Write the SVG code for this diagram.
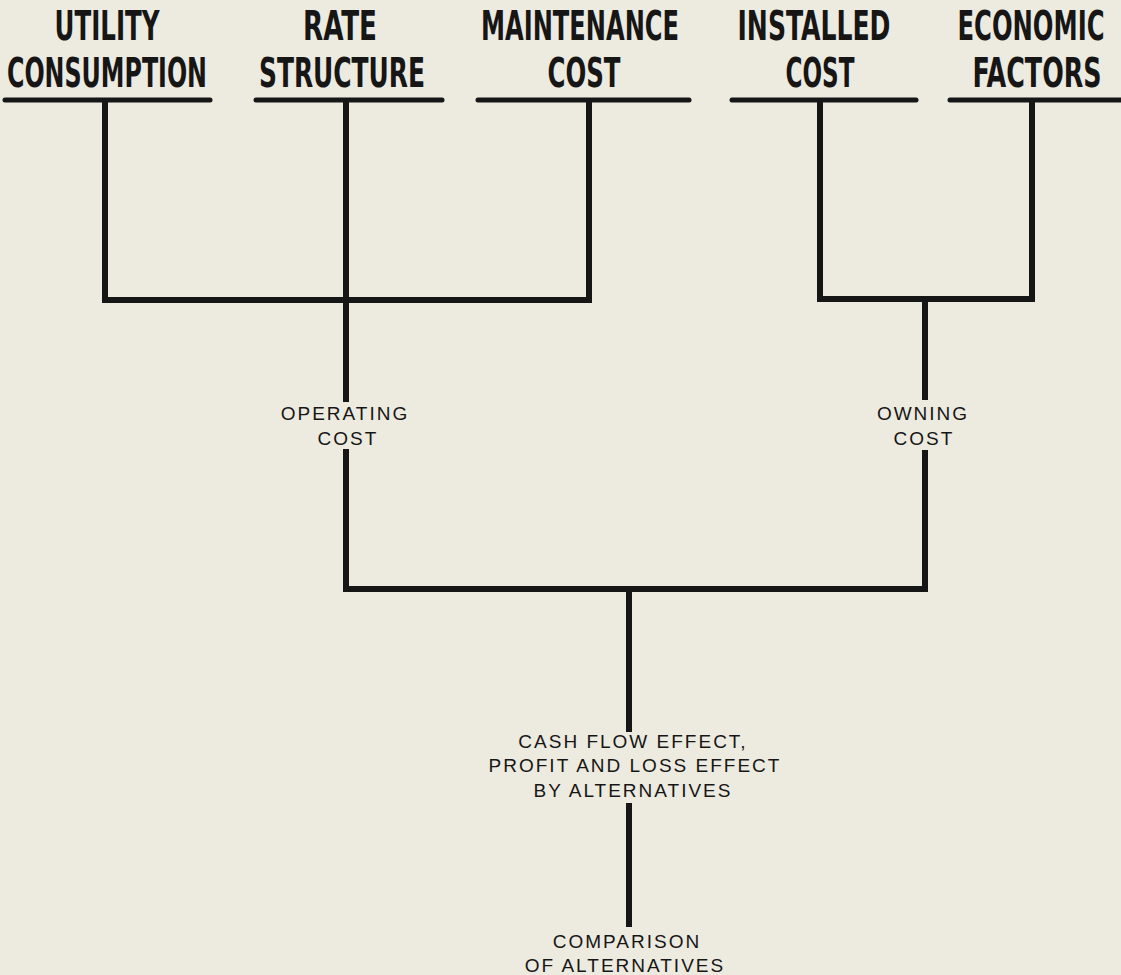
<svg xmlns="http://www.w3.org/2000/svg" width="1121" height="975" viewBox="0 0 1121 975">
  <style>
    .bg { fill: #edeae0; }
    .head { font-family: "Liberation Sans Narrow", "DejaVu Sans Condensed", "Liberation Sans", sans-serif; font-weight: bold; font-size: 40px; fill: #161616; text-anchor: middle; }
    .lbl { font-family: "Liberation Sans", Arial, sans-serif; font-size: 19px; fill: #161616; text-anchor: middle; letter-spacing: 2px; }
    .rule { stroke: #161616; stroke-width: 5; stroke-linecap: round; fill: none; }
    .wire { stroke: #161616; stroke-width: 6; fill: none; stroke-linejoin: miter; stroke-linecap: butt; }
  </style>
  <rect class="bg" x="0" y="0" width="1121" height="975"/>

  <!-- input factors -->
  <g id="utility-consumption">
    <text class="head" x="107" y="40" textLength="105" lengthAdjust="spacingAndGlyphs">UTILITY</text>
    <text class="head" x="107" y="87" textLength="200" lengthAdjust="spacingAndGlyphs">CONSUMPTION</text>
    <line class="rule" x1="5" y1="100" x2="210" y2="100"/>
  </g>
  <g id="rate-structure">
    <text class="head" x="340" y="40" textLength="74" lengthAdjust="spacingAndGlyphs">RATE</text>
    <text class="head" x="342" y="87" textLength="166" lengthAdjust="spacingAndGlyphs">STRUCTURE</text>
    <line class="rule" x1="256" y1="100" x2="442" y2="100"/>
  </g>
  <g id="maintenance-cost">
    <text class="head" x="580" y="40" textLength="198" lengthAdjust="spacingAndGlyphs">MAINTENANCE</text>
    <text class="head" x="584" y="87" textLength="73" lengthAdjust="spacingAndGlyphs">COST</text>
    <line class="rule" x1="478" y1="100" x2="689" y2="100"/>
  </g>
  <g id="installed-cost">
    <text class="head" x="814" y="40" textLength="153" lengthAdjust="spacingAndGlyphs">INSTALLED</text>
    <text class="head" x="820" y="87" textLength="69" lengthAdjust="spacingAndGlyphs">COST</text>
    <line class="rule" x1="732" y1="100" x2="916" y2="100"/>
  </g>
  <g id="economic-factors">
    <text class="head" x="1031" y="40" textLength="147" lengthAdjust="spacingAndGlyphs">ECONOMIC</text>
    <text class="head" x="1037" y="87" textLength="129" lengthAdjust="spacingAndGlyphs">FACTORS</text>
    <line class="rule" x1="950" y1="100" x2="1124" y2="100"/>
  </g>

  <!-- connectors -->
  <g id="connectors">
    <path class="wire" d="M105,100 V300 H589 V100"/>
    <path class="wire" d="M346,100 V402"/>
    <path class="wire" d="M820,100 V299 H1032 V100"/>
    <path class="wire" d="M925,299 V400"/>
    <path class="wire" d="M346,449 V589 H925 V450"/>
    <path class="wire" d="M629,589 V732"/>
    <path class="wire" d="M629,803 V927"/>
  </g>

  <!-- derived results -->
  <g id="operating-cost">
    <text class="lbl" x="345" y="420">OPERATING</text>
    <text class="lbl" x="348" y="445">COST</text>
  </g>
  <g id="owning-cost">
    <text class="lbl" x="923" y="420">OWNING</text>
    <text class="lbl" x="924" y="445">COST</text>
  </g>
  <g id="cash-flow-effect">
    <text class="lbl" x="633" y="748">CASH FLOW EFFECT,</text>
    <text class="lbl" x="635" y="772">PROFIT AND LOSS EFFECT</text>
    <text class="lbl" x="633" y="797">BY ALTERNATIVES</text>
  </g>
  <g id="comparison">
    <text class="lbl" x="627" y="948">COMPARISON</text>
    <text class="lbl" x="625" y="972">OF ALTERNATIVES</text>
  </g>
</svg>
